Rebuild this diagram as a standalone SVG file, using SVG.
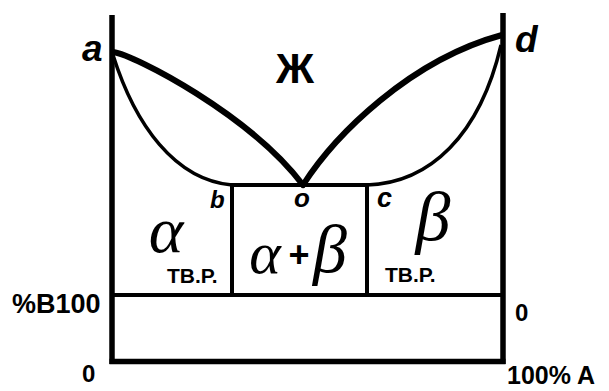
<svg xmlns="http://www.w3.org/2000/svg" width="609" height="391" viewBox="0 0 609 391">
<style>
.ax{stroke:#000;stroke-width:5.5;fill:none}
.thick{stroke:#000;stroke-width:6;fill:none;stroke-linecap:round}
.thin{stroke:#000;stroke-width:3.5;fill:none}
.ln{stroke:#000;stroke-width:4;fill:none}
.lbl{font-family:"Liberation Sans",Arial,sans-serif;font-weight:bold;font-style:italic;fill:#000}
.txt{font-family:"Liberation Sans",Arial,sans-serif;font-weight:bold;fill:#000}
.gr{font-family:"Liberation Serif","Times New Roman",serif;font-style:italic;fill:#000}
</style>
<rect width="609" height="391" fill="#fff"/>
<g id="connectors">
<line class="ax" x1="112" y1="15" x2="112" y2="364"/>
<line class="ax" x1="503" y1="13" x2="503" y2="364"/>
<line class="ax" x1="109.5" y1="361.5" x2="505.5" y2="361.5"/>
<line class="ln" x1="112" y1="295" x2="503" y2="295"/>
<path class="ln" d="M232,295 V185 H367 V295"/>
<path class="thick" d="M113,52 C135,55 250,115 303,185"/>
<path class="thick" d="M303,185 C335,135 410,60 502,35"/>
<path class="thin" d="M113,55 C135,125 175,180 232,185"/>
<path class="thin" d="M367,185 C430,183 480,135 501,45"/>
</g>
<g id="point-a"><text class="lbl" x="82" y="61" font-size="37">a</text></g>
<g id="point-d"><text class="lbl" x="515" y="52" font-size="37">d</text></g>
<g id="liquid"><text class="txt" x="295" y="83" font-size="42" text-anchor="middle">Ж</text></g>
<g id="point-b"><text class="lbl" x="210" y="208" font-size="24">b</text></g>
<g id="point-o"><text class="lbl" x="302" y="207" font-size="26" text-anchor="middle">o</text></g>
<g id="point-c"><text class="lbl" x="377" y="207" font-size="27">c</text></g>
<g id="alpha-region">
<text class="gr" x="166" y="252" font-size="66" text-anchor="middle">α</text>
<text class="txt" x="167" y="283" font-size="21">ТВ.Р.</text>
</g>
<g id="mixed-region">
<text class="gr" x="265" y="273" font-size="60" text-anchor="middle">α</text>
<text class="txt" x="299" y="267" font-size="36" text-anchor="middle">+</text>
<text class="gr" x="330" y="272" font-size="68" text-anchor="middle">β</text>
</g>
<g id="beta-region">
<text class="gr" x="433" y="240" font-size="70" text-anchor="middle">β</text>
<text class="txt" x="385" y="282" font-size="21">ТВ.Р.</text>
</g>
<g id="axis-labels">
<text class="txt" x="12" y="313" font-size="27">%В100</text>
<text class="txt" x="82" y="382" font-size="24">0</text>
<text class="txt" x="515" y="321" font-size="24">0</text>
<text class="txt" x="507" y="384" font-size="25">100% A</text>
</g>
</svg>
